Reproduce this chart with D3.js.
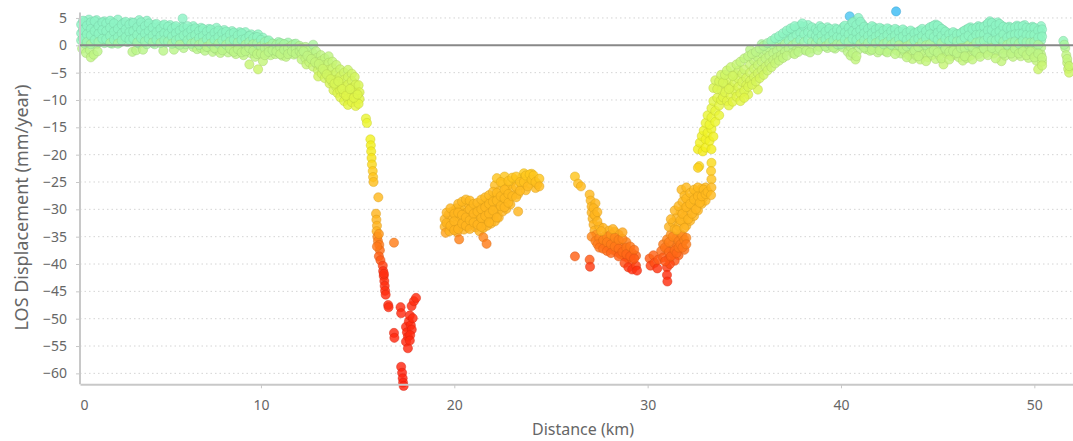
<!DOCTYPE html>
<html><head><meta charset="utf-8">
<script src="https://cdn.jsdelivr.net/npm/d3@7"></script>
<style>html,body{margin:0;padding:0;background:#fff;}svg{display:block;font-family:"Noto Sans",sans-serif;}</style>
</head><body><svg id="chart" width="1073" height="441"></svg>
<script>
// ---- tick labels ----
const xTickValues = [0, 10, 20, 30, 40, 50];
const yTickValues = [-60, -55, -50, -45, -40, -35, -30, -25, -20, -15, -10, -5, 0, 5];

// ---- series: [distance km, LOS displacement mm/year] ----
const westBand = [
[0.7,3.8],[0.7,2.2],[0.7,0.9],[0.75,-0.6],
[0.9,4.3],[0.9,3.1],[0.9,1.6],[0.9,0.3],[0.95,-1.4],
[1.1,4.7],[1.1,2.7],[1.1,1.2],[1.15,-0.9],[1.2,-2.2],
[1.3,3.9],[1.3,2.0],[1.3,0.5],[1.35,-1.7],
[1.5,4.6],[1.5,3.2],[1.5,1.7],[1.5,0.2],[1.55,-1.1],
[1.7,4.0],[1.7,2.5],[1.7,1.0],
[1.9,4.4],[1.9,3.0],[1.9,1.5],[1.9,0.4],
[2.1,3.6],[2.1,2.2],[2.1,0.8],
[2.3,4.2],[2.3,2.9],[2.3,1.4],[2.3,0.3],
[2.5,3.7],[2.5,2.3],[2.5,0.9],[2.6,4.7],
[2.7,3.3],[2.7,1.8],[2.7,0.5],
[2.9,4.1],[2.9,2.6],[2.9,1.2],
[3.1,3.5],[3.1,2.1],[3.1,0.6],
[3.3,4.2],[3.3,2.8],[3.3,1.4],[3.35,-1.2],
[3.5,3.6],[3.5,2.3],[3.5,0.8],[3.55,-0.9],
[3.7,4.6],[3.7,3.1],[3.7,1.6],[3.7,0.3],
[3.9,3.8],[3.9,2.4],[3.9,1.0],[3.9,-0.8],
[4.1,4.5],[4.1,2.9],[4.1,1.5],[4.1,0.2],
[4.3,3.5],[4.3,2.2],[4.3,0.8],
[4.5,3.8],[4.5,2.7],[4.5,1.3],[4.5,0.2],
[4.7,3.3],[4.7,2.0],[4.7,0.7],
[4.9,3.6],[4.9,2.5],[4.9,1.2],[4.95,-1.0],
[5.1,3.2],[5.1,1.9],[5.1,0.5],
[5.3,3.7],[5.3,2.4],[5.3,1.0],
[5.5,3.3],[5.5,2.0],[5.5,0.6],[5.5,-0.8],
[5.7,3.0],[5.7,1.6],[5.7,0.3],[5.95,4.9],
[5.9,3.4],[5.9,2.2],[5.9,0.9],[6.0,-0.5],
[6.1,2.8],[6.1,1.5],[6.1,0.2],
[6.3,3.1],[6.3,1.9],[6.3,0.7],
[6.5,3.5],[6.5,2.3],[6.5,1.0],[6.5,-0.3],
[6.7,2.9],[6.7,1.6],[6.7,0.4],[6.7,-0.7],
[6.9,3.2],[6.9,2.0],[6.9,0.8],[6.9,-0.5],
[7.1,2.7],[7.1,1.4],[7.1,0.2],[7.1,-1.0],
[7.3,3.0],[7.3,1.8],[7.3,0.6],[7.3,-0.4],
[7.5,2.6],[7.5,1.3],[7.5,0.0],[7.5,-1.2],
[7.7,3.2],[7.7,2.0],[7.7,0.7],[7.7,-0.8],
[7.9,2.5],[7.9,1.2],[7.9,0.1],[7.9,-1.4],
[8.1,2.8],[8.1,1.6],[8.1,0.5],[8.1,-0.6],
[8.3,2.3],[8.3,1.1],[8.3,-0.1],[8.3,-1.3],
[8.5,2.6],[8.5,1.4],[8.5,0.3],[8.5,-0.9],
[8.7,2.1],[8.7,0.9],[8.7,-0.3],[8.7,-1.6],
[8.9,2.4],[8.9,1.2],[8.9,0.1],[8.9,-1.0],
[9.1,1.9],[9.1,0.8],[9.1,-0.4],[9.1,-1.8],[9.2,2.4],
[9.3,1.5],[9.3,0.4],[9.3,-0.9],[9.4,-3.5],
[9.5,2.0],[9.5,0.9],[9.5,-0.2],[9.5,-1.5],
[9.7,1.6],[9.7,0.5],[9.7,-0.7],[9.7,-2.1],
[9.85,2.0],[9.85,-4.4],
[9.9,1.1],[9.9,0.0],[9.9,-1.2],
[10.1,1.4],[10.1,0.3],[10.1,-0.9],[10.1,-2.9],
[10.3,0.8],[10.3,-0.2],[10.3,-1.4],
[10.5,0.5],[10.5,-0.6],[10.5,-1.8],
[10.7,0.2],[10.7,-0.9],[10.75,-1.6],
[10.9,0.6],[10.9,-0.4],[10.9,-1.3],
[11.1,0.3],[11.1,-0.7],[11.1,-1.9],
[11.3,0.1],[11.3,-1.0],[11.3,-2.1],[11.4,0.5],
[11.5,-0.3],[11.5,-1.4],
[11.7,0.2],[11.7,-0.8],[11.7,-1.7],
[11.9,-0.2],[11.9,-1.2]
];

const westBandFill = [
[0.8,4.5],[0.8,2.8],[0.8,1.2],[1.0,3.6],[1.0,2.0],[1.0,0.6],[1.2,4.2],[1.2,3.0],[1.2,1.8],[1.2,0.2],
[1.4,4.4],[1.4,2.6],[1.4,1.0],[1.6,3.5],[1.6,2.1],[1.6,0.6],[1.8,4.2],[1.8,2.8],[1.8,1.2],
[2.0,4.0],[2.0,2.6],[2.0,1.1],[2.2,4.5],[2.2,3.2],[2.2,1.7],[2.2,0.4],[2.4,4.0],[2.4,2.5],[2.4,1.0],
[2.6,3.0],[2.6,1.5],[2.6,0.3],[2.8,3.8],[2.8,2.2],[2.8,0.9],[3.0,4.3],[3.0,2.9],[3.0,1.5],
[3.2,3.8],[3.2,2.4],[3.2,1.0],[3.4,4.1],[3.4,2.6],[3.4,1.2],[3.6,3.3],[3.6,1.9],[3.6,0.5],
[3.8,4.2],[3.8,2.8],[3.8,1.3],[4.0,3.5],[4.0,2.1],[4.0,0.7],[4.2,4.0],[4.2,2.6],[4.2,1.2],
[4.4,3.2],[4.4,1.8],[4.4,0.5],[4.6,3.9],[4.6,2.4],[4.6,1.0],[4.8,3.0],[4.8,1.7],[4.8,0.4],
[5.0,3.8],[5.0,2.2],[5.0,0.9],[5.2,3.4],[5.2,2.1],[5.2,0.7],[5.4,3.0],[5.4,1.6],[5.4,0.3],
[5.6,3.5],[5.6,2.2],[5.6,0.9],[5.8,2.7],[5.8,1.3],[5.8,0.1],[6.0,3.2],[6.0,1.8],
[6.2,3.5],[6.2,2.2],[6.2,0.9],[6.4,2.8],[6.4,1.5],[6.4,0.3],[6.6,3.1],[6.6,1.9],[6.6,0.6],
[6.8,2.6],[6.8,1.3],[6.8,0.1],[7.0,3.0],[7.0,1.7],[7.0,0.5],[7.2,2.5],[7.2,1.1],[7.2,-0.3],
[7.4,2.9],[7.4,1.6],[7.4,0.3],[7.6,2.3],[7.6,1.0],[7.6,-0.5],[7.8,2.7],[7.8,1.5],[7.8,0.3],
[8.0,2.2],[8.0,0.9],[8.0,-0.9],[8.2,2.5],[8.2,1.3],[8.2,0.1],[8.4,2.0],[8.4,0.7],[8.4,-0.6],
[8.6,2.3],[8.6,1.0],[8.6,-1.2],[8.8,1.8],[8.8,0.5],[8.8,-0.7],[9.0,2.2],[9.0,1.0],[9.0,-1.3],
[9.2,1.2],[9.2,0.1],[9.2,-1.1],[9.4,1.7],[9.4,0.6],[9.4,-0.5],[9.6,1.3],[9.6,0.2],[9.6,-1.0],
[9.8,1.5],[9.8,0.3],[9.8,-1.6],[10.0,1.0],[10.0,-0.2],[10.0,-1.5],[10.2,0.6],[10.2,-0.5],[10.2,-1.8],
[10.4,0.9],[10.4,-0.3],[10.4,-1.2],[10.6,0.3],[10.6,-0.9],[10.8,0.1],[10.8,-1.1],
[11.0,0.4],[11.0,-0.4],[11.0,-1.6],[11.2,0.2],[11.2,-0.8],[11.4,-0.5],[11.4,-1.6],
[11.6,0.0],[11.6,-1.1],[11.8,0.3],[11.8,-0.6],[11.8,-1.5],[12.0,-0.1],[12.0,-1.1]
];

const westSlope = [
[12.1,-0.5],[12.1,-1.6],[12.1,-2.6],
[12.3,-0.3],[12.3,-1.3],[12.3,-2.4],[12.35,-3.5],
[12.5,-0.9],[12.5,-2.0],[12.5,-3.1],
[12.7,0.1],[12.7,-1.5],[12.7,-2.7],[12.7,-3.9],
[12.85,-1.1],[12.9,-2.3],[12.9,-3.5],[12.95,-4.6],[12.96,-5.7],
[13.1,-1.8],[13.1,-2.9],[13.1,-4.0],[13.15,-5.2],
[13.3,-2.4],[13.3,-3.6],[13.3,-4.8],[13.3,-6.0],
[13.5,-2.0],[13.5,-3.2],[13.5,-4.5],[13.5,-5.8],[13.55,-7.0],
[13.7,-3.0],[13.7,-4.2],[13.7,-5.5],[13.7,-6.8],[13.75,-8.2],
[13.9,-3.6],[13.9,-5.0],[13.9,-6.3],[13.9,-7.6],[13.95,-8.7],
[14.1,-4.4],[14.1,-5.7],[14.1,-7.0],[14.1,-8.3],[14.1,-9.5],
[14.3,-5.0],[14.3,-6.3],[14.3,-7.6],[14.3,-8.9],[14.3,-10.2],
[14.5,-4.5],[14.5,-5.8],[14.5,-7.2],[14.5,-8.5],[14.5,-9.8],[14.5,-10.9],
[14.7,-5.2],[14.7,-6.5],[14.7,-7.8],[14.7,-9.1],[14.7,-10.4],
[14.85,-5.8],[14.9,-7.2],[14.9,-8.6],[14.9,-9.9],[14.9,-11.1],
[15.05,-7.3],[15.1,-8.6],[15.1,-9.8],[15.05,-10.7],
[15.43,-13.4],[15.48,-14.2],
[12.2,-1.1],[12.4,-1.9],[12.6,-2.5],[12.8,-3.1],[13.0,-3.4],[13.2,-4.3],[13.4,-5.3],[13.6,-6.2],
[13.8,-7.0],[14.0,-6.6],[14.2,-8.0],[14.4,-9.2],[14.6,-8.0],[14.8,-9.6],[15.0,-9.0]
];

const westTrough = [
[15.66,-17.2],[15.68,-18.3],[15.7,-19.4],[15.72,-20.6],[15.74,-21.8],[15.78,-23.0],[15.8,-24.1],[15.82,-25.0],
[16.07,-27.8],
[15.95,-30.8],[15.97,-31.9],[16.0,-33.0],[15.98,-34.0],[16.02,-35.0],[16.05,-35.8],[16.1,-34.5],
[16.12,-36.5],[16.15,-37.5],[16.1,-38.6],[16.18,-39.3],[16.0,-36.8],
[16.3,-40.3],[16.32,-41.3],[16.35,-42.2],[16.38,-43.1],[16.4,-44.0],[16.42,-44.9],[16.45,-45.6],[16.36,-41.8],
[16.58,-47.5],[16.6,-47.9],
[16.88,-36.1],
[16.88,-52.6],[16.9,-53.5],
[17.22,-47.9],[17.25,-49.0],
[17.79,-47.7],[17.91,-46.8],[18.02,-46.2],
[17.5,-51.5],[17.55,-52.5],[17.6,-53.3],[17.5,-54.2],[17.65,-50.5],[17.7,-49.4],[17.75,-51.2],
[17.8,-52.0],[17.72,-53.0],[17.85,-49.9],[17.6,-55.4],[17.7,-54.0],
[17.25,-58.8],[17.3,-59.9],[17.33,-60.9],[17.35,-61.7],[17.38,-62.3]
];

const basinCentral = [
[19.5,-31.8],[19.5,-33.2],[19.55,-34.3],[19.7,-31.0],[19.7,-32.6],[19.75,-34.0],
[19.9,-30.4],[19.9,-31.9],[19.95,-33.5],[20.1,-29.8],[20.1,-31.3],[20.1,-32.8],[20.15,-34.2],
[20.25,-35.5],[20.3,-30.1],[20.3,-31.6],[20.3,-33.2],
[20.5,-29.3],[20.5,-30.8],[20.5,-32.3],[20.5,-33.7],
[20.7,-28.9],[20.7,-30.4],[20.7,-31.9],[20.7,-33.2],
[20.9,-29.6],[20.9,-31.2],[20.9,-32.7],
[21.1,-30.3],[21.1,-31.8],[21.1,-33.3],
[21.3,-29.5],[21.3,-31.0],[21.3,-32.5],[21.3,-34.0],
[21.5,-35.1],[21.67,-36.3],
[21.5,-29.0],[21.5,-30.5],[21.5,-32.0],[21.5,-33.4],
[21.7,-28.8],[21.7,-30.2],[21.7,-31.7],[21.7,-33.0],
[21.9,-28.3],[21.9,-29.8],[21.9,-31.3],[21.9,-32.6],
[22.1,-27.8],[22.1,-29.4],[22.1,-30.9],[22.1,-32.2],
[22.3,-28.6],[22.3,-30.1],[22.3,-31.5],
[22.5,-27.4],[22.5,-28.9],[22.5,-30.4],
[22.7,-27.0],[22.7,-28.4],[22.7,-29.9],
[22.9,-27.6],[22.9,-29.1],[23.3,-30.4],
[22.1,-25.6],[22.2,-24.3],[22.3,-26.7],[22.5,-25.2],[22.6,-24.0],[22.7,-26.1],
[22.9,-25.3],[23.0,-26.4],[23.1,-24.6],[23.2,-25.9],[23.3,-27.2],
[23.5,-24.2],[23.5,-25.6],[23.6,-23.4],[23.7,-26.5],[23.8,-24.4],[23.9,-25.3],
[24.0,-23.5],[24.1,-24.8],[24.2,-26.1],[24.3,-25.4]
];

const basinCentralFill = [
[19.6,-32.5],[19.6,-30.6],[19.8,-33.0],[19.8,-29.8],[20.0,-30.8],[20.0,-32.2],[20.0,-33.8],
[20.2,-29.0],[20.2,-30.6],[20.2,-33.6],[20.4,-28.6],[20.4,-31.0],[20.4,-32.6],
[20.6,-28.2],[20.6,-31.5],[20.6,-33.0],[20.8,-28.4],[20.8,-30.0],[20.8,-32.0],[20.8,-33.6],
[21.0,-29.0],[21.0,-30.8],[21.0,-32.4],[21.2,-28.8],[21.2,-30.4],[21.2,-32.8],
[21.4,-28.2],[21.4,-30.0],[21.4,-31.6],[21.4,-33.2],[21.6,-27.8],[21.6,-29.6],[21.6,-31.2],
[21.8,-27.4],[21.8,-29.0],[21.8,-30.8],[21.8,-32.4],[22.0,-26.8],[22.0,-28.6],[22.0,-30.2],
[22.2,-27.0],[22.2,-28.4],[22.2,-31.5],[22.4,-25.0],[22.4,-27.6],[22.4,-29.4],
[22.6,-26.4],[22.6,-28.0],[22.6,-29.6],[22.8,-24.8],[22.8,-27.2],[22.8,-28.8],
[23.0,-24.2],[23.0,-27.6],[23.2,-24.0],[23.2,-27.8],[23.4,-25.0],[23.4,-26.6],
[23.6,-25.0],[23.7,-23.8],[23.8,-25.8],[23.9,-23.6],[24.0,-24.6],[24.1,-23.8],[24.2,-25.0],
[24.4,-24.4],[24.4,-25.8]
];

const basinEast = [
[26.24,-24.0],[26.4,-25.3],[26.55,-25.8],
[26.24,-38.6],[27.0,-39.2],[27.02,-40.5],
[27.0,-27.3],[27.05,-28.4],[27.1,-29.5],[27.1,-30.6],[27.15,-31.7],[27.2,-32.8],[27.25,-33.9],
[27.3,-28.9],[27.3,-31.2],[27.35,-34.6],[27.5,-33.1],
[27.1,-35.0],[27.3,-35.8],[27.5,-35.3],[27.6,-36.2],[27.8,-34.9],[27.8,-36.5],
[28.0,-35.4],[28.0,-37.0],[28.2,-35.8],[28.2,-37.4],[28.4,-36.2],[28.4,-37.8],
[28.5,-34.6],[28.6,-36.8],[28.6,-38.2],[28.8,-37.2],[28.8,-38.6],[28.9,-36.0],
[29.0,-37.6],[29.0,-39.0],[29.2,-38.0],[29.2,-39.4],[29.4,-38.5],
[27.7,-33.4],[28.0,-33.9],[28.3,-34.1],
[28.8,-39.8],[29.0,-40.6],[29.2,-41.0],[29.4,-40.3],[29.45,-41.2],
[30.1,-39.0],[30.15,-40.3],[30.3,-38.4],[30.35,-39.8],[30.5,-40.8],[30.55,-39.2],
[30.7,-37.6],[30.8,-36.4],[30.8,-38.8],[31.0,-35.5],[31.0,-37.2],[31.1,-39.0],
[31.2,-34.6],[31.3,-36.3],[31.3,-38.1],[31.5,-35.2],[31.5,-36.9],[31.6,-38.4],
[31.7,-34.5],[31.8,-36.0],[31.9,-37.4],[31.4,-39.4],
[31.0,-40.6],[31.0,-42.0],[31.02,-43.2],[31.15,-40.0],
[31.1,-33.2],[31.3,-32.4],[31.4,-33.6],[31.5,-31.5],[31.6,-33.0],[31.7,-30.4],
[31.8,-32.2],[31.9,-29.8],[31.9,-31.4],[32.0,-33.0],[32.1,-28.9],[32.1,-30.6],
[32.2,-32.1],[32.3,-27.8],[32.3,-29.6],[32.4,-31.2],[32.5,-26.8],[32.5,-28.6],
[32.6,-30.2],[32.7,-27.4],[32.8,-26.2],[32.8,-29.0],[32.9,-27.8],[33.0,-26.0],[33.0,-28.4],
[31.75,-26.4],[31.9,-27.5],[32.0,-26.0]
];

const basinEastFill = [
[27.4,-36.4],[27.5,-37.0],[27.7,-35.6],[27.7,-37.2],[27.9,-35.0],[27.9,-36.0],[27.9,-37.6],
[28.1,-34.6],[28.1,-36.4],[28.1,-38.0],[28.3,-35.2],[28.3,-36.8],[28.5,-35.6],[28.5,-37.2],[28.5,-38.6],
[28.7,-35.4],[28.7,-37.8],[28.9,-37.0],[28.9,-38.2],[29.1,-36.8],[29.1,-38.6],[29.3,-37.4],[29.3,-39.0],
[27.2,-29.8],[27.25,-31.0],[27.4,-30.5],[27.4,-32.2],[27.6,-34.0],[28.2,-33.6],[28.7,-34.2],
[30.9,-37.0],[30.9,-39.5],[31.1,-36.0],[31.1,-37.8],[31.2,-38.6],[31.3,-35.0],[31.4,-37.5],
[31.5,-38.0],[31.6,-35.8],[31.6,-37.0],[31.7,-36.4],[31.8,-34.8],[31.8,-37.0],[31.9,-35.6],
[32.0,-35.2],[32.0,-36.4],
[31.2,-31.8],[31.4,-30.2],[31.5,-33.8],[31.6,-29.4],[31.7,-32.0],[31.8,-28.6],[31.8,-30.8],
[31.9,-33.4],[32.0,-28.0],[32.0,-29.6],[32.1,-31.8],[32.2,-27.0],[32.2,-29.0],[32.3,-30.8],
[32.4,-26.4],[32.4,-28.2],[32.5,-30.0],[32.6,-27.6],[32.6,-26.0],[32.7,-28.8],[32.8,-27.6],
[32.9,-26.4],[33.0,-27.2],[33.1,-26.8]
];

const eastRise = [
[32.67,-22.1],[32.6,-22.4],[33.3,-21.5],
[33.28,-23.0],[33.3,-24.5],[33.3,-26.0],[33.28,-27.4],
[32.6,-19.0],[32.7,-17.8],[32.8,-16.6],[32.85,-19.4],[32.9,-15.6],[33.0,-17.2],
[33.0,-18.7],[33.1,-16.0],[33.2,-17.5],[33.3,-19.0],[33.3,-15.3],[33.4,-16.7],
[33.0,-14.2],[33.1,-12.8],[33.2,-14.5],[33.3,-11.5],[33.3,-13.2],[33.4,-10.2],
[33.5,-12.0],[33.5,-14.0],[33.6,-9.6],[33.7,-11.0],[33.7,-12.8],[33.8,-10.0],
[33.8,-8.2],[33.9,-9.5],[34.0,-7.0],[34.0,-8.6],[34.1,-10.2],[34.2,-6.2],[34.3,-7.7],
[34.3,-9.2],[34.5,-5.3],[34.5,-6.8],[34.5,-8.3],[34.7,-4.6],[34.7,-6.1],[34.7,-7.6],
[34.9,-5.2],[34.9,-6.7],[35.0,-4.4],[35.1,-6.0],[35.1,-7.3],
[35.2,-9.0],[35.7,-8.1],[35.3,-3.5],[35.3,-5.0],[35.3,-6.5],[35.5,-2.8],[35.5,-4.3],
[35.5,-5.8],[35.7,-2.2],[35.7,-3.6],[35.7,-5.1],[35.9,-1.5],[35.9,-3.0],[35.9,-4.5],
[36.1,-0.9],[36.1,-2.4],[36.1,-3.9],[36.3,-0.5],[36.3,-1.9],[36.3,-3.3],
[36.5,0.0],[36.5,-1.4],[36.5,-2.7],[36.7,0.3],[36.7,-1.0],[36.7,-2.2],
[35.9,0.2],[35.3,-0.8],
[36.9,1.0],[36.9,-0.4],[36.9,-1.8],[37.1,1.6],[37.1,0.2],[37.1,-1.2],
[37.3,2.2],[37.3,0.8],[37.3,-0.6],[37.5,2.8],[37.5,1.4],[37.5,0.0],[37.5,-1.4],
[37.7,3.2],[37.7,1.9],[37.7,0.5],[37.7,-0.9],[37.9,3.6],[37.9,2.3],[37.9,1.0],[37.9,-0.4],
[38.1,3.4],[38.1,2.0],[38.1,0.6],[38.1,-0.8],[38.3,3.7],[38.3,2.4],[38.3,1.1],
[38.5,3.3],[38.5,2.0],[38.5,0.6],[38.5,-0.6]
];

const eastRiseFill = [
[33.4,-7.8],[33.5,-6.4],[33.6,-8.0],[33.7,-6.6],[33.8,-5.4],[33.9,-6.8],[34.0,-5.4],[34.1,-4.6],
[34.2,-8.0],[34.2,-11.0],[34.3,-4.0],[34.4,-5.6],[34.4,-10.3],[34.6,-3.5],[34.6,-9.4],
[34.8,-3.0],[34.8,-8.8],[34.8,-10.2],[35.0,-2.4],[35.0,-8.3],[35.0,-9.6],[35.2,-2.0],[35.2,-7.6],
[35.4,-1.6],[35.4,-7.2],[35.6,-1.2],[35.6,-6.6],[35.8,-0.6],[35.8,-6.0],[36.0,-0.1],[36.0,-5.4],
[36.2,0.4],[36.2,-4.6],[36.4,0.8],[36.4,-4.0],[36.6,1.3],[36.6,-3.3],[36.8,1.7],[36.8,-2.8],
[37.0,2.2],[37.0,-2.3],[37.2,2.7],[37.2,-1.9],[37.4,3.1],[37.6,3.5],[37.6,-1.6],[37.8,-1.2],
[38.0,4.0],[38.2,-1.0],[38.4,-1.3]
];

const eastBand = [
[38.7,3.0],[38.7,1.7],[38.7,0.4],
[38.9,3.5],[38.9,2.2],[38.9,0.9],[38.9,-0.3],
[39.1,2.8],[39.1,1.5],[39.1,0.3],
[39.3,3.3],[39.3,2.0],[39.3,0.7],[39.3,-0.5],
[39.5,2.6],[39.5,1.3],[39.5,0.1],
[39.7,3.1],[39.7,1.8],[39.7,0.5],[39.7,-0.6],
[39.9,2.5],[39.9,1.2],[39.9,0.0],
[40.1,3.3],[40.1,2.0],[40.1,0.8],[40.1,-0.4],
[40.3,2.7],[40.3,1.4],[40.3,0.2],[40.35,-1.2],
[40.45,5.3],
[40.5,3.8],[40.5,2.3],[40.5,1.0],[40.5,-0.3],[40.5,-1.9],
[40.7,4.4],[40.7,2.9],[40.7,1.6],[40.7,0.4],[40.75,-2.6],
[40.9,5.0],[40.9,3.4],[40.9,2.0],[40.9,0.7],[40.9,-0.8],
[41.1,3.9],[41.1,2.5],[41.1,1.2],[41.1,0.0],
[41.3,3.2],[41.3,1.9],[41.3,0.6],[41.3,-0.7],
[41.5,2.8],[41.5,1.5],[41.5,0.3],[41.5,-1.0],
[41.7,3.3],[41.7,2.0],[41.7,0.8],[41.7,-0.4],
[41.9,2.6],[41.9,1.4],[41.9,0.1],[41.9,-1.3],
[42.1,3.0],[42.1,1.7],[42.1,0.5],[42.1,-0.6],
[42.3,2.5],[42.3,1.2],[42.3,0.0],[42.3,-1.1],
[42.5,2.9],[42.5,1.6],[42.5,0.4],[42.5,-0.8],
[42.7,2.4],[42.7,1.1],[42.7,-0.2],
[42.85,6.2],
[42.9,2.8],[42.9,1.5],[42.9,0.3],[42.9,-1.0],
[43.1,2.2],[43.1,0.9],[43.1,-0.3],[43.1,-1.5],
[43.3,2.6],[43.3,1.3],[43.3,0.1],[43.3,-1.2],
[43.5,2.0],[43.5,0.8],[43.5,-0.5],[43.5,-1.8],
[43.7,2.4],[43.7,1.1],[43.7,-0.1],[43.7,-1.4],[43.7,-2.5],
[43.9,2.1],[43.9,0.8],[43.9,-0.6],[43.9,-1.9],
[44.1,2.7],[44.1,1.4],[44.1,0.2],[44.1,-1.1],[44.1,-2.6],
[44.3,2.3],[44.3,1.0],[44.3,-0.3],[44.3,-1.6],
[44.5,3.0],[44.5,1.7],[44.5,0.5],[44.5,-0.8],[44.5,-2.2],
[44.7,3.4],[44.7,2.1],[44.7,0.8],[44.7,-0.5],[44.7,-1.8],
[44.9,3.8],[44.9,2.5],[44.9,1.2],[44.9,-0.1],[44.9,-2.5],
[45.1,3.3],[45.1,2.0],[45.1,0.7],[45.1,-0.6],[45.1,-1.9],
[45.3,2.8],[45.3,1.5],[45.3,0.2],[45.3,-1.1],[45.3,-3.5],
[45.5,2.3],[45.5,1.0],[45.5,-0.3],[45.5,-1.6],
[45.7,1.8],[45.7,0.6],[45.7,-0.7],[45.7,-2.0],
[45.9,2.2],[45.9,0.9],[45.9,-0.4],[45.9,-1.7],
[46.1,1.7],[46.1,0.5],[46.1,-0.8],[46.1,-2.2],
[46.3,2.5],[46.3,1.2],[46.3,-0.1],[46.3,-1.4],[46.3,-2.8],
[46.5,2.9],[46.5,1.6],[46.5,0.3],[46.5,-1.0],[46.5,-2.3],
[46.7,3.3],[46.7,2.0],[46.7,0.7],[46.7,-0.6],[46.7,-1.9],
[46.9,2.8],[46.9,1.5],[46.9,0.2],[46.9,-1.1],
[47.1,3.5],[47.1,2.2],[47.1,0.9],[47.1,-0.4],[47.1,-1.6],
[47.3,3.0],[47.3,1.7],[47.3,0.4],[47.3,-0.9],
[47.5,3.7],[47.5,2.4],[47.5,1.1],[47.5,-0.2],[47.5,-1.4],
[47.7,4.4],[47.7,3.0],[47.7,1.7],[47.7,0.4],[47.7,-0.9],
[47.9,3.8],[47.9,2.5],[47.9,1.2],[47.9,-0.1],[47.9,-1.5],
[48.1,4.2],[48.1,2.9],[48.1,1.6],[48.1,0.3],[48.1,-1.0],
[48.3,3.6],[48.3,2.3],[48.3,1.0],[48.3,-0.3],[48.3,-2.9],
[48.5,3.1],[48.5,1.8],[48.5,0.5],[48.5,-0.8],[48.5,-1.9],
[48.7,3.4],[48.7,2.1],[48.7,0.8],[48.7,-0.5],
[48.9,2.9],[48.9,1.6],[48.9,0.3],[48.9,-1.0],[48.9,-2.1],
[49.1,3.6],[49.1,2.3],[49.1,1.0],[49.1,-0.3],
[49.3,3.2],[49.3,1.9],[49.3,0.6],[49.3,-0.7],[49.3,-2.0],
[49.5,3.7],[49.5,2.4],[49.5,1.1],[49.5,-0.2],
[49.7,2.9],[49.7,1.6],[49.7,0.3],[49.7,-1.0],[49.7,-2.3],
[49.9,3.4],[49.9,2.1],[49.9,0.8],[49.9,-0.5],[49.9,-1.6],
[50.1,3.0],[50.1,1.7],[50.1,0.4],[50.1,-0.9],[50.1,-2.8],
[50.2,-4.4],
[50.35,3.5],[50.35,2.2],[50.35,0.9],[50.35,-0.4],[50.35,-1.7],[50.4,-3.0],
[51.5,0.8],[51.6,-0.5],[51.65,-1.8],[51.7,-3.2],[51.75,-4.3],[51.8,-5.0]
];

const eastBandFill = [
[38.8,2.5],[38.8,1.2],[38.8,-0.9],[39.0,3.2],[39.0,1.8],[39.0,0.6],[39.2,2.5],[39.2,1.1],[39.2,-0.2],
[39.4,3.0],[39.4,1.6],[39.4,0.4],[39.6,2.2],[39.6,0.9],[39.6,-0.4],[39.8,2.9],[39.8,1.5],[39.8,0.2],
[40.0,2.7],[40.0,1.4],[40.0,0.2],[40.2,3.6],[40.2,2.3],[40.2,1.0],[40.4,3.2],[40.4,2.0],[40.4,0.6],
[40.6,4.2],[40.6,2.6],[40.6,1.2],[40.6,-1.4],[40.8,3.7],[40.8,2.3],[40.8,1.0],[40.8,-2.0],
[41.0,4.3],[41.0,2.8],[41.0,1.5],[41.0,0.2],[41.2,3.4],[41.2,2.2],[41.2,0.9],[41.2,-0.4],
[41.4,3.0],[41.4,1.7],[41.4,0.4],[41.6,3.5],[41.6,2.2],[41.6,1.0],[41.6,-0.8],
[41.8,2.9],[41.8,1.6],[41.8,0.4],[42.0,3.2],[42.0,2.0],[42.0,0.8],[42.0,-0.9],
[42.2,2.7],[42.2,1.4],[42.2,0.2],[42.4,3.1],[42.4,1.9],[42.4,0.6],[42.4,-1.3],
[42.6,2.6],[42.6,1.3],[42.6,0.1],[42.8,3.0],[42.8,1.8],[42.8,0.6],[42.8,-1.6],
[43.0,2.5],[43.0,1.2],[43.0,0.0],[43.2,2.9],[43.2,1.6],[43.2,-0.6],[43.4,2.3],[43.4,1.0],[43.4,-0.2],[43.4,-2.2],
[43.6,2.7],[43.6,1.4],[43.6,0.2],[43.8,2.2],[43.8,0.9],[43.8,-0.9],[44.0,2.5],[44.0,1.2],[44.0,-0.3],[44.0,-2.0],
[44.2,3.0],[44.2,1.7],[44.2,0.5],[44.4,2.6],[44.4,1.3],[44.4,0.0],[44.4,-2.9],
[44.6,3.3],[44.6,2.0],[44.6,0.2],[44.6,-1.3],[44.8,3.6],[44.8,1.5],[44.8,-0.9],
[45.0,3.6],[45.0,2.3],[45.0,1.0],[45.0,-1.3],[45.2,3.0],[45.2,1.7],[45.2,0.4],[45.2,-2.4],
[45.4,2.5],[45.4,1.2],[45.4,-0.6],[45.6,2.0],[45.6,0.8],[45.6,-1.2],[45.6,-2.6],
[45.8,2.4],[45.8,1.2],[45.8,-1.0],[46.0,2.0],[46.0,0.7],[46.0,-1.4],[46.2,2.2],[46.2,0.9],[46.2,-0.5],
[46.4,2.7],[46.4,1.4],[46.4,-0.5],[46.4,-2.0],[46.6,3.1],[46.6,1.8],[46.6,0.0],
[46.8,3.0],[46.8,1.2],[46.8,-0.3],[46.8,-2.6],[47.0,3.2],[47.0,1.9],[47.0,0.5],[47.0,-1.3],
[47.2,3.3],[47.2,2.0],[47.2,0.7],[47.2,-2.1],[47.4,3.4],[47.4,2.0],[47.4,0.8],[47.4,-0.6],
[47.6,4.0],[47.6,2.7],[47.6,1.4],[47.6,-1.8],[47.8,4.1],[47.8,2.8],[47.8,0.9],[47.8,-0.5],
[48.0,3.6],[48.0,2.2],[48.0,0.9],[48.0,-2.4],[48.2,3.9],[48.2,2.6],[48.2,1.3],[48.2,-0.6],
[48.4,3.4],[48.4,2.0],[48.4,0.7],[48.4,-1.5],[48.6,3.2],[48.6,1.4],[48.6,0.1],
[48.8,3.1],[48.8,1.8],[48.8,0.5],[48.8,-1.5],[49.0,3.3],[49.0,2.0],[49.0,0.7],[49.0,-0.6],
[49.2,3.4],[49.2,2.1],[49.2,0.3],[49.2,-1.5],[49.4,3.5],[49.4,2.2],[49.4,0.9],[49.4,-1.1],
[49.6,3.2],[49.6,1.9],[49.6,0.6],[49.6,-1.8],[49.8,3.1],[49.8,1.8],[49.8,0.5],[49.8,-1.1],
[50.0,3.2],[50.0,1.9],[50.0,0.6],[50.0,-2.2],[50.2,2.7],[50.2,1.4],[50.2,0.1],[50.2,-1.5],
[50.4,2.9],[50.4,1.6],[50.4,-2.3],[50.4,-3.7],
[51.55,0.1],[51.7,-2.5],[51.8,-3.8]
];

// colour ramp (value -> colour)
const colorStops = [-62, -41, -39.5, -37, -34.8, -34, -26, -23, -21, -19, -15, -10, -6, -3, -0.3, 1, 5.1, 5.25, 6.5];
const colorValues = ["#ff2410","#ff3010","#ff5515","#ff7518","#ff8a1a","#ffb21e","#ffba1e","#ffcc1c","#f8e01a","#f3ee1c","#eef52c","#e2f544","#d3f55c","#c4f57a","#b8f58e","#8ff5c0","#8df3c6","#4fc8f2","#36b8f5"];

const W = 1073, H = 441;
const svg = d3.select("#chart");
const x = d3.scaleLinear().domain([0.64, 52.0]).range([80, 1073]).clamp(true);
const y = d3.scaleLinear().domain([-62, 6]).range([384.3, 12.5]);
const color = d3.scaleLinear().domain(colorStops).range(colorValues).interpolate(d3.interpolateRgb).clamp(true);

// grid
svg.append("g").selectAll("line").data(yTickValues.filter(v => v !== 0)).join("line")
  .attr("x1", 80).attr("x2", W).attr("y1", d => y(d)).attr("y2", d => y(d))
  .attr("stroke", "#d4d4d4").attr("stroke-width", 1).attr("stroke-dasharray", "1.5,3");

// points
const allPoints = [].concat(westBand, westBandFill, westSlope, westTrough, basinCentral, basinCentralFill,
  basinEast, basinEastFill, eastRise, eastRiseFill, eastBand, eastBandFill);
svg.append("g").selectAll("circle").data(allPoints).join("circle")
  .attr("cx", d => x(d[0])).attr("cy", d => y(d[1])).attr("r", 4.6)
  .attr("fill", d => color(d[1])).attr("fill-opacity", 0.82)
  .attr("stroke", d => d3.color(color(d[1])).darker(0.5)).attr("stroke-opacity", 0.55).attr("stroke-width", 0.8);

// axes
const yAxis = svg.append("g").attr("transform", "translate(80,0)")
  .call(d3.axisLeft(y).tickValues(yTickValues).tickSize(4).tickSizeOuter(0).tickPadding(9).tickFormat(d3.format("d")));
const xAxis = svg.append("g").attr("transform", "translate(0,384.3)")
  .call(d3.axisBottom(x).tickValues(xTickValues).tickSize(4).tickSizeOuter(0).tickPadding(12).tickFormat(d3.format("d")));
[yAxis, xAxis].forEach(g => {
  g.select(".domain").attr("stroke", "#c8c8c8").attr("stroke-width", 2);
  g.selectAll(".tick line").attr("stroke", "#c8c8c8");
  g.selectAll(".tick text").attr("fill", "#666").style("font-size", "14px").style("font-family", "'Noto Sans',sans-serif");
});
xAxis.selectAll(".tick").filter(d => d === 0).select("text").attr("text-anchor", "start");
xAxis.selectAll(".tick").filter(d => d === 0).select("line").remove();
yAxis.select(".domain").attr("d", `M0,${y(6)}V${y(-62)}`);

// zero line on top
svg.append("line").attr("x1", 80).attr("x2", W).attr("y1", y(0)).attr("y2", y(0))
  .attr("stroke", "#888").attr("stroke-width", 2);

// titles
svg.append("text").attr("x", 583).attr("y", 435).attr("text-anchor", "middle")
  .attr("fill", "#666").style("font-size", "16px").text("Distance (km)");
svg.append("text").attr("transform", "translate(22,207.5) rotate(-90)").attr("dy", "0.35em")
  .attr("text-anchor", "middle").attr("fill", "#666").style("font-size", "18px").text("LOS Displacement (mm/year)");
</script></body></html>
